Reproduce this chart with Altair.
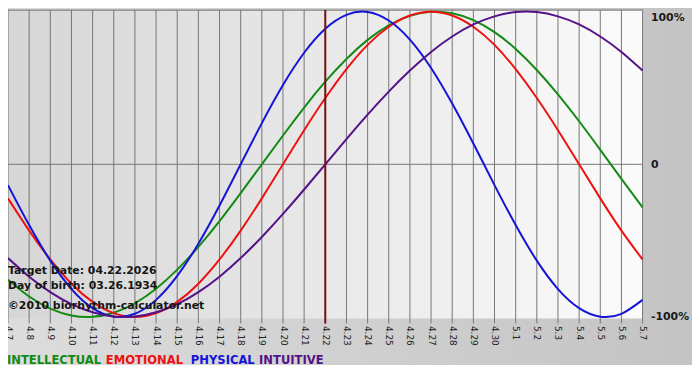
import altair as alt
import pandas as pd

# ---- data ----
dates = ["4.7", "4.8", "4.9", "4.10", "4.11", "4.12", "4.13", "4.14", "4.15", "4.16",
         "4.17", "4.18", "4.19", "4.20", "4.21", "4.22", "4.23", "4.24", "4.25", "4.26",
         "4.27", "4.28", "4.29", "4.30", "5.1", "5.2", "5.3", "5.4", "5.5", "5.6", "5.7"]

intellectual = [-0.756, -0.866, -0.945, -0.990, -0.999, -0.972, -0.910, -0.815, -0.690, -0.541,
                -0.372, -0.189, 0.0, 0.189, 0.372, 0.541, 0.690, 0.815, 0.910, 0.972,
                0.999, 0.990, 0.945, 0.866, 0.756, 0.618, 0.458, 0.282, 0.095, -0.095, -0.282]

emotional = [-0.223, -0.434, -0.623, -0.782, -0.901, -0.975, -1.0, -0.975, -0.901, -0.782,
             -0.623, -0.434, -0.223, 0.0, 0.223, 0.434, 0.623, 0.782, 0.901, 0.975,
             1.0, 0.975, 0.901, 0.782, 0.623, 0.434, 0.223, 0.0, -0.223, -0.434, -0.623]

physical = [-0.136, -0.398, -0.631, -0.817, -0.942, -0.998, -0.979, -0.888, -0.731, -0.520,
            -0.270, 0.0, 0.270, 0.520, 0.731, 0.888, 0.979, 0.998, 0.942, 0.817,
            0.631, 0.398, 0.136, -0.136, -0.398, -0.631, -0.817, -0.942, -0.998, -0.979, -0.888]

intuitive = [-0.614, -0.736, -0.837, -0.916, -0.969, -0.997, -0.997, -0.969, -0.916, -0.837,
             -0.736, -0.614, -0.476, -0.325, -0.165, 0.0, 0.165, 0.325, 0.476, 0.614,
             0.736, 0.837, 0.916, 0.969, 0.997, 0.997, 0.969, 0.916, 0.837, 0.736, 0.614]

series_names = ["INTELLECTUAL", "EMOTIONAL", "PHYSICAL", "INTUITIVE"]
series_colors = ["#138a13", "#ee1111", "#1414d8", "#551188"]

target_date = "4.22"
info_lines = ["Target Date: 04.22.2026", "Day of birth: 03.26.1934", "\u00a92010 biorhythm-calculator.net"]

y_ticks = [1, 0, -1]
y_tick_labels = ["100%", "0", "-100%"]

# ---- build table ----
rows = []
for name, vals in zip(series_names, [intellectual, emotional, physical, intuitive]):
    for d, v in zip(dates, vals):
        rows.append({"date": d, "value": v, "series": name})
df = pd.DataFrame(rows)

W, H = 642, 312
FONT = "DejaVu Sans"

xscale = alt.Scale(type="point", domain=dates, padding=0)
yscale = alt.Scale(domain=[-1.01, 1.01], nice=False, zero=False)

x_axis = alt.Axis(title=None, labelAngle=90, labelFont=FONT, labelFontSize=9,
                  labelColor="#222222", ticks=False, domain=False, grid=False,
                  labelPadding=7, labelOverlap=False, zindex=2)

label_expr = " : ".join(
    [f"datum.value == {v} ? '{t}'" for v, t in zip(y_ticks[:-1], y_tick_labels[:-1])]
) + f" : '{y_tick_labels[-1]}'"

y_axis = alt.Axis(title=None, orient="right", values=y_ticks, labelExpr=label_expr,
                  ticks=False, domain=False, grid=False, labelPadding=8,
                  labelFont=FONT, labelFontSize=11, labelFontWeight="bold",
                  labelColor="#1a1a1a", zindex=2, labelFlush=False,
                  labelBaseline={"condition": {"test": f"datum.value == {y_ticks[0]}", "value": "top"},
                                 "value": "middle"})

one = alt.Data(values=[{}])

outer_grad = alt.LinearGradient(
    gradient="linear",
    stops=[alt.GradientStop(color="#dddddd", offset=0), alt.GradientStop(color="#c3c3c3", offset=1)],
    x1=0, x2=1, y1=0, y2=0)
plot_grad = alt.LinearGradient(
    gradient="linear",
    stops=[alt.GradientStop(color="#d6d6d6", offset=0), alt.GradientStop(color="#fbfbfb", offset=1)],
    x1=0, x2=1, y1=0, y2=0)

outer_bg = alt.Chart(one).mark_rect(fill=outer_grad).encode(
    x=alt.value(-10), x2=alt.value(W + 60), y=alt.value(-10), y2=alt.value(359))
plot_bg = alt.Chart(one).mark_rect(fill=plot_grad).encode(
    x=alt.value(0), x2=alt.value(W), y=alt.value(0), y2=alt.value(H))

grid = alt.Chart(pd.DataFrame({"date": dates})).mark_rule(color="#767676", strokeWidth=1).encode(
    x=alt.X("date:O", scale=xscale, axis=x_axis), y=alt.value(0), y2=alt.value(H + 5))

zero = alt.Chart(pd.DataFrame({"value": [0]})).mark_rule(color="#767676", strokeWidth=1).encode(
    y=alt.Y("value:Q", scale=yscale, axis=y_axis))

top_line = alt.Chart(one).mark_rule(color="#6a6a6a", strokeWidth=1).encode(y=alt.value(0))

lines = alt.Chart(df).mark_line(strokeWidth=2, interpolate="natural").encode(
    x=alt.X("date:O", scale=xscale, axis=x_axis),
    y=alt.Y("value:Q", scale=yscale, axis=y_axis),
    color=alt.Color("series:N", scale=alt.Scale(domain=series_names, range=series_colors), legend=None),
    detail="series:N",
)

target = alt.Chart(pd.DataFrame({"date": [target_date]})).mark_rule(color="#7a1010", strokeWidth=2).encode(
    x=alt.X("date:O", scale=xscale, axis=x_axis), y=alt.value(0), y2=alt.value(H + 5))

info_y = [264, 279, 299]
info = [
    alt.Chart(one).mark_text(align="left", baseline="middle", font=FONT, fontSize=11,
                             fontWeight="bold", color="#151515").encode(
        x=alt.value(0), y=alt.value(yy), text=alt.value(t))
    for t, yy in zip(info_lines, info_y)
]

legend_x = [-1, 99, 185, 254]
legend = [
    alt.Chart(one).mark_text(align="left", baseline="middle", font=FONT, fontSize=11.7,
                             fontWeight="bold", color=c).encode(
        x=alt.value(xx), y=alt.value(354), text=alt.value(n))
    for n, c, xx in zip(series_names, series_colors, legend_x)
]

chart = alt.layer(outer_bg, plot_bg, grid, zero, top_line, lines, target, *info, *legend).properties(
    width=W, height=H,
    autosize=alt.AutoSizeParams(type="none"),
    padding={"left": 0, "top": 0, "right": 50, "bottom": 55},
).configure_view(stroke=None).configure(background="white")

chart.save("out.html", embed_options={"renderer": "svg", "actions": False})
